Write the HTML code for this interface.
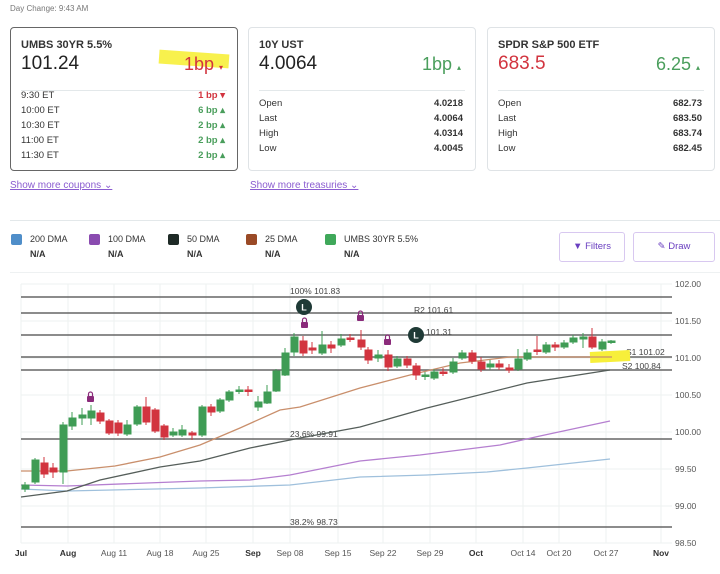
<!DOCTYPE html>
<html><head><meta charset="utf-8"><style>
*{box-sizing:border-box;margin:0;padding:0}
body{width:720px;height:574px;background:#fff;font-family:"Liberation Sans",sans-serif;color:#222;position:relative;overflow:hidden}
.a{position:absolute}
.card{position:absolute;top:27px;height:144px;width:228px;border:1px solid #dfe3e6;border-radius:4px}
.t{position:absolute;left:10px;top:11px;font-size:11px;font-weight:bold;color:#333}
.big{position:absolute;left:10px;top:25px;font-size:19px}
.chg{position:absolute;right:14px;top:26px;font-size:18px}
.hr{position:absolute;left:10px;right:10px;top:62px;border-top:1px solid #e3e8ea}
.row{position:absolute;left:10px;right:12px;font-size:9.5px;color:#333}
.row b{position:absolute;right:0;font-weight:bold}
.g{color:#4a9e5c}.r{color:#d2343f}
.lnk{position:absolute;top:180px;font-size:10px;color:#8a5cd0;text-decoration:underline}
.lg{position:absolute;top:234px;font-size:9px;color:#333}
.lg i{position:absolute;left:0;top:0;width:11px;height:11px;border-radius:2px}
.lg span{position:absolute;left:19px;top:0;white-space:nowrap}
.lg b{position:absolute;left:19px;top:15px}
.btn{position:absolute;top:232px;height:30px;border:1px solid #d8c8f0;border-radius:3px;font-size:9.5px;color:#6a3fc0;text-align:center;line-height:28px}
</style></head><body>
<div class="a" style="left:10px;top:4px;font-size:8px;color:#777">Day Change: 9:43 AM</div>

<div class="card" style="left:10px;border-color:#666">
<div class="t">UMBS 30YR 5.5%</div>
<div class="big">101.24</div>
<div class="a" style="left:148px;top:24px;width:70px;height:14px;background:#f7ef3a;transform:rotate(4deg);opacity:.9"></div>
<div class="chg r">1bp <span style="font-size:8px">▾</span></div>
<div class="hr"></div>
<div class="row" style="top:62px">9:30 ET<b class="r">1 bp ▾</b></div>
<div class="row" style="top:77px">10:00 ET<b class="g">6 bp ▴</b></div>
<div class="row" style="top:92px">10:30 ET<b class="g">2 bp ▴</b></div>
<div class="row" style="top:107px">11:00 ET<b class="g">2 bp ▴</b></div>
<div class="row" style="top:122px">11:30 ET<b class="g">2 bp ▴</b></div>
</div>
<div class="card" style="left:248px">
<div class="t">10Y UST</div><div class="big">4.0064</div><div class="chg g">1bp <span style="font-size:8px">▴</span></div>
<div class="hr"></div>
<div class="row" style="top:70px">Open<b>4.0218</b></div>
<div class="row" style="top:85px">Last<b>4.0064</b></div>
<div class="row" style="top:100px">High<b>4.0314</b></div>
<div class="row" style="top:115px">Low<b>4.0045</b></div>
</div>
<div class="card" style="left:487px">
<div class="t">SPDR S&amp;P 500 ETF</div><div class="big r">683.5</div><div class="chg g">6.25 <span style="font-size:8px">▴</span></div>
<div class="hr"></div>
<div class="row" style="top:70px">Open<b>682.73</b></div>
<div class="row" style="top:85px">Last<b>683.50</b></div>
<div class="row" style="top:100px">High<b>683.74</b></div>
<div class="row" style="top:115px">Low<b>682.45</b></div>
</div>
<div class="lnk" style="left:10px">Show more coupons ⌄</div>
<div class="lnk" style="left:250px">Show more treasuries ⌄</div>

<div class="a" style="left:10px;right:0;top:220px;border-top:1px solid #e3e8ea"></div>
<div class="a" style="left:10px;right:0;top:272px;border-top:1px solid #eef1f2"></div>
<div class="lg" style="left:11px"><i style="background:#4f8ec9"></i><span>200 DMA</span><b>N/A</b></div>
<div class="lg" style="left:89px"><i style="background:#8a4bb0"></i><span>100 DMA</span><b>N/A</b></div>
<div class="lg" style="left:168px"><i style="background:#1e2a26"></i><span>50 DMA</span><b>N/A</b></div>
<div class="lg" style="left:246px"><i style="background:#9a4a26"></i><span>25 DMA</span><b>N/A</b></div>
<div class="lg" style="left:325px"><i style="background:#3fa85a"></i><span>UMBS 30YR 5.5%</span><b>N/A</b></div>
<div class="btn" style="left:559px;width:66px">▼ Filters</div>
<div class="btn" style="left:633px;width:82px">✎ Draw</div>

<svg class="a" style="left:0;top:0" width="720" height="574" font-family="Liberation Sans, sans-serif">
<g stroke="#edf2f1" stroke-width="1">
<line x1="21" y1="284" x2="672" y2="284"/><line x1="21" y1="321" x2="672" y2="321"/><line x1="21" y1="358" x2="672" y2="358"/><line x1="21" y1="395" x2="672" y2="395"/><line x1="21" y1="432" x2="672" y2="432"/><line x1="21" y1="469" x2="672" y2="469"/><line x1="21" y1="506" x2="672" y2="506"/><line x1="21" y1="543" x2="672" y2="543"/>
<line x1="21" y1="284" x2="21" y2="543"/><line x1="68" y1="284" x2="68" y2="543"/><line x1="114" y1="284" x2="114" y2="543"/><line x1="160" y1="284" x2="160" y2="543"/><line x1="206" y1="284" x2="206" y2="543"/><line x1="253" y1="284" x2="253" y2="543"/><line x1="290" y1="284" x2="290" y2="543"/><line x1="338" y1="284" x2="338" y2="543"/><line x1="383" y1="284" x2="383" y2="543"/><line x1="430" y1="284" x2="430" y2="543"/><line x1="476" y1="284" x2="476" y2="543"/><line x1="523" y1="284" x2="523" y2="543"/><line x1="559" y1="284" x2="559" y2="543"/><line x1="606" y1="284" x2="606" y2="543"/><line x1="661" y1="284" x2="661" y2="543"/>
</g>
<g stroke="#666" stroke-width="1.6">
<line x1="21" y1="297" x2="672" y2="297"/><line x1="21" y1="313" x2="672" y2="313"/><line x1="21" y1="335" x2="672" y2="335"/><line x1="21" y1="357" x2="672" y2="357"/><line x1="21" y1="370" x2="672" y2="370"/><line x1="21" y1="439" x2="672" y2="439"/><line x1="21" y1="527" x2="672" y2="527"/>
</g>
<g font-size="8.5" fill="#444">
<text x="290" y="294">100% 101.83</text><text x="414" y="313">R2 101.61</text><text x="426" y="335">101.31</text>
<text x="626" y="355">S1 101.02</text><text x="622" y="369">S2 100.84</text>
<text x="290" y="437">23.6% 99.91</text><text x="290" y="525">38.2% 98.73</text>
</g>
<rect x="590" y="351" width="40" height="11" fill="#f7ef3a" transform="rotate(-3 610 356)"/>
<g fill="none" stroke-width="1.3">
<polyline stroke="#9fc0dc" points="21,489 67,491 200,488 290,485 360,477 427,475 487,472 527,468 610,459"/>
<polyline stroke="#b57fd0" points="21,485 67,486 200,481 250,480 290,475 360,461 420,455 460,450 500,445 540,436 610,421"/>
<polyline stroke="#555e5a" points="21,497 67,491 100,480 160,467 200,461 250,448 300,438 360,427 427,408 527,383 610,370"/>
<polyline stroke="#c98f6c" points="21,471 67,471 115,466 160,457 200,445 240,428 280,410 300,407 360,388 410,375 460,363 510,357 560,357 612,357"/>
</g>
<g stroke-width="1">
<g fill="#3f9c55" stroke="#3f9c55">
<line x1="25" y1="482" x2="25" y2="492"/><rect x="22" y="485" width="7" height="4"/>
<line x1="35" y1="458" x2="35" y2="484"/><rect x="32" y="460" width="7" height="22"/>
<line x1="63" y1="422" x2="63" y2="484"/><rect x="60" y="425" width="7" height="47"/>
<line x1="72" y1="412" x2="72" y2="430"/><rect x="69" y="418" width="7" height="8"/>
<line x1="82" y1="408" x2="82" y2="425"/><rect x="79" y="415" width="7" height="3"/>
<line x1="91" y1="405" x2="91" y2="425"/><rect x="88" y="411" width="7" height="7"/>
<line x1="127" y1="420" x2="127" y2="436"/><rect x="124" y="425" width="7" height="9"/>
<line x1="137" y1="405" x2="137" y2="426"/><rect x="134" y="407" width="7" height="17"/>
<line x1="173" y1="428" x2="173" y2="437"/><rect x="170" y="432" width="7" height="3"/>
<line x1="182" y1="425" x2="182" y2="437"/><rect x="179" y="430" width="7" height="5"/>
<line x1="202" y1="405" x2="202" y2="437"/><rect x="199" y="407" width="7" height="28"/>
<line x1="220" y1="398" x2="220" y2="413"/><rect x="217" y="400" width="7" height="11"/>
<line x1="229" y1="390" x2="229" y2="402"/><rect x="226" y="392" width="7" height="8"/>
<line x1="239" y1="386" x2="239" y2="394"/><rect x="236" y="390" width="7" height="1.5"/>
<line x1="258" y1="396" x2="258" y2="411"/><rect x="255" y="402" width="7" height="5"/>
<line x1="267" y1="385" x2="267" y2="404"/><rect x="264" y="392" width="7" height="11"/>
<line x1="276" y1="369" x2="276" y2="392"/><rect x="273" y="371" width="7" height="20"/>
<line x1="285" y1="348" x2="285" y2="376"/><rect x="282" y="353" width="7" height="22"/>
<line x1="294" y1="333" x2="294" y2="356"/><rect x="291" y="337" width="7" height="15"/>
<line x1="322" y1="331" x2="322" y2="355"/><rect x="319" y="345" width="7" height="8"/>
<line x1="341" y1="334" x2="341" y2="347"/><rect x="338" y="339" width="7" height="6"/>
<line x1="378" y1="350" x2="378" y2="362"/><rect x="375" y="355" width="7" height="3"/>
<line x1="397" y1="356" x2="397" y2="368"/><rect x="394" y="359" width="7" height="7"/>
<line x1="425" y1="372" x2="425" y2="380"/><rect x="422" y="375" width="7" height="1.5"/>
<line x1="434" y1="369" x2="434" y2="380"/><rect x="431" y="372" width="7" height="6"/>
<line x1="453" y1="358" x2="453" y2="374"/><rect x="450" y="362" width="7" height="10"/>
<line x1="462" y1="350" x2="462" y2="360"/><rect x="459" y="353" width="7" height="5"/>
<line x1="490" y1="360" x2="490" y2="370"/><rect x="487" y="364" width="7" height="3"/>
<line x1="518" y1="349" x2="518" y2="371"/><rect x="515" y="359" width="7" height="10"/>
<line x1="527" y1="349" x2="527" y2="361"/><rect x="524" y="353" width="7" height="6"/>
<line x1="546" y1="342" x2="546" y2="354"/><rect x="543" y="345" width="7" height="7"/>
<line x1="564" y1="340" x2="564" y2="349"/><rect x="561" y="343" width="7" height="4"/>
<line x1="573" y1="335" x2="573" y2="344"/><rect x="570" y="338" width="7" height="4"/>
<line x1="583" y1="333" x2="583" y2="348"/><rect x="580" y="337" width="7" height="2"/>
<line x1="602" y1="339" x2="602" y2="351"/><rect x="599" y="342" width="7" height="7"/>
<line x1="611" y1="340" x2="611" y2="344"/><rect x="608" y="341" width="7" height="1.5"/>
</g>
<g fill="#d2343f" stroke="#d2343f">
<line x1="44" y1="457" x2="44" y2="478"/><rect x="41" y="463" width="7" height="11"/>
<line x1="53" y1="463" x2="53" y2="478"/><rect x="50" y="468" width="7" height="4"/>
<line x1="100" y1="410" x2="100" y2="424"/><rect x="97" y="413" width="7" height="8"/>
<line x1="109" y1="419" x2="109" y2="435"/><rect x="106" y="421" width="7" height="12"/>
<line x1="118" y1="420" x2="118" y2="436"/><rect x="115" y="423" width="7" height="10"/>
<line x1="146" y1="397" x2="146" y2="425"/><rect x="143" y="407" width="7" height="15"/>
<line x1="155" y1="408" x2="155" y2="433"/><rect x="152" y="410" width="7" height="21"/>
<line x1="164" y1="424" x2="164" y2="440"/><rect x="161" y="426" width="7" height="11"/>
<line x1="192" y1="431" x2="192" y2="440"/><rect x="189" y="433" width="7" height="2"/>
<line x1="211" y1="404" x2="211" y2="416"/><rect x="208" y="407" width="7" height="5"/>
<line x1="248" y1="386" x2="248" y2="396"/><rect x="245" y="390" width="7" height="1.5"/>
<line x1="303" y1="336" x2="303" y2="356"/><rect x="300" y="341" width="7" height="12"/>
<line x1="312" y1="342" x2="312" y2="354"/><rect x="309" y="348" width="7" height="2"/>
<line x1="331" y1="341" x2="331" y2="353"/><rect x="328" y="345" width="7" height="3"/>
<line x1="350" y1="334" x2="350" y2="342"/><rect x="347" y="338" width="7" height="1.5"/>
<line x1="361" y1="330" x2="361" y2="350"/><rect x="358" y="340" width="7" height="7"/>
<line x1="368" y1="347" x2="368" y2="364"/><rect x="365" y="350" width="7" height="10"/>
<line x1="388" y1="350" x2="388" y2="371"/><rect x="385" y="355" width="7" height="12"/>
<line x1="407" y1="356" x2="407" y2="368"/><rect x="404" y="359" width="7" height="6"/>
<line x1="416" y1="363" x2="416" y2="380"/><rect x="413" y="366" width="7" height="9"/>
<line x1="443" y1="368" x2="443" y2="376"/><rect x="440" y="372" width="7" height="1.5"/>
<line x1="472" y1="350" x2="472" y2="364"/><rect x="469" y="353" width="7" height="8"/>
<line x1="481" y1="357" x2="481" y2="372"/><rect x="478" y="362" width="7" height="7"/>
<line x1="499" y1="360" x2="499" y2="370"/><rect x="496" y="364" width="7" height="3"/>
<line x1="509" y1="364" x2="509" y2="373"/><rect x="506" y="368" width="7" height="2"/>
<line x1="537" y1="336" x2="537" y2="355"/><rect x="534" y="350" width="7" height="1.5"/>
<line x1="555" y1="342" x2="555" y2="351"/><rect x="552" y="345" width="7" height="2"/>
<line x1="592" y1="328" x2="592" y2="349"/><rect x="589" y="337" width="7" height="10"/>
</g>
</g>
<g fill="#8a2a7a">
<rect x="87" y="396" width="7" height="6" rx="1"/><rect x="301" y="322" width="7" height="6" rx="1"/><rect x="357" y="315" width="7" height="6" rx="1"/><rect x="384" y="339" width="7" height="6" rx="1"/>
</g>
<g fill="none" stroke="#8a2a7a" stroke-width="1.2">
<path d="M88.5 396v-2a2 2 0 0 1 4 0v2"/><path d="M302.5 322v-2a2 2 0 0 1 4 0v2"/><path d="M358.5 315v-2a2 2 0 0 1 4 0v2"/><path d="M385.5 339v-2a2 2 0 0 1 4 0v2"/>
</g>
<circle cx="304" cy="307" r="8" fill="#1f3a36"/><text x="304" y="310.5" font-size="9" fill="#fff" text-anchor="middle" font-weight="bold">L</text>
<circle cx="416" cy="335" r="8" fill="#1f3a36"/><text x="416" y="338.5" font-size="9" fill="#fff" text-anchor="middle" font-weight="bold">L</text>
<g font-size="8.5" fill="#555">
<text x="675" y="287">102.00</text><text x="675" y="324">101.50</text><text x="675" y="361">101.00</text><text x="675" y="398">100.50</text><text x="675" y="435">100.00</text><text x="675" y="472">99.50</text><text x="675" y="509">99.00</text><text x="675" y="546">98.50</text>
</g>
<g font-size="8.5" fill="#555" text-anchor="middle">
<text x="21" y="556" font-weight="bold" fill="#333">Jul</text><text x="68" y="556" font-weight="bold" fill="#333">Aug</text><text x="114" y="556">Aug 11</text><text x="160" y="556">Aug 18</text><text x="206" y="556">Aug 25</text><text x="253" y="556" font-weight="bold" fill="#333">Sep</text><text x="290" y="556">Sep 08</text><text x="338" y="556">Sep 15</text><text x="383" y="556">Sep 22</text><text x="430" y="556">Sep 29</text><text x="476" y="556" font-weight="bold" fill="#333">Oct</text><text x="523" y="556">Oct 14</text><text x="559" y="556">Oct 20</text><text x="606" y="556">Oct 27</text><text x="661" y="556" font-weight="bold" fill="#333">Nov</text>
</g>
</svg>
</body></html>
